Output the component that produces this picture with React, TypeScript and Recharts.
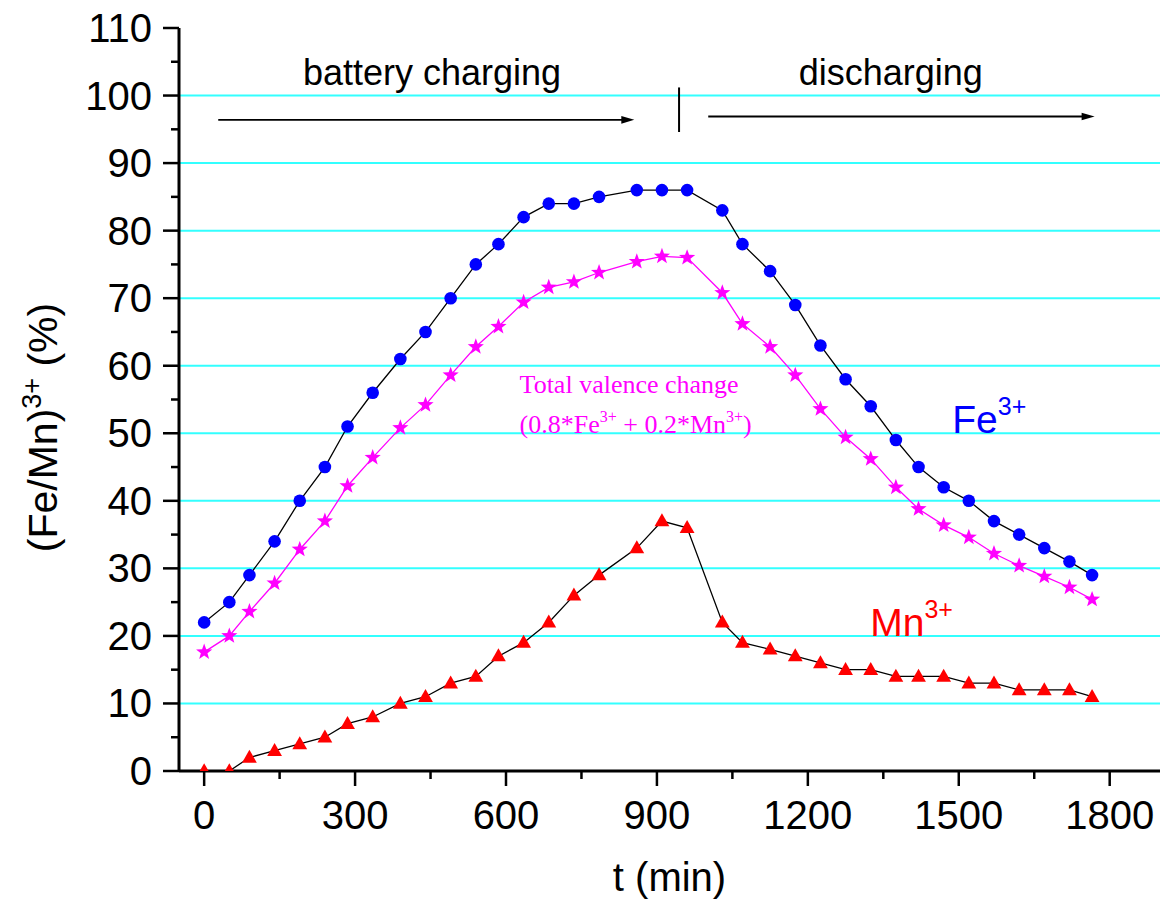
import React from "react";
import {
  ComposedChart,
  Line,
  XAxis,
  YAxis,
  CartesianGrid,
  ReferenceLine,
  ReferenceDot,
} from "recharts";

// sampling times (min)
const times = [
  0, 50, 90, 140, 190, 240, 285, 335, 390, 440, 490, 540, 585, 635, 685, 735,
  785, 860, 910, 960, 1030, 1070, 1125, 1175, 1225, 1275, 1325, 1375, 1420,
  1470, 1520, 1570, 1620, 1670, 1720, 1765,
];
const fe3 = [
  22, 25, 29, 34, 40, 45, 51, 56, 61, 65, 70, 75, 78, 82, 84, 84, 85, 86, 86,
  86, 83, 78, 74, 69, 63, 58, 54, 49, 45, 42, 40, 37, 35, 33, 31, 29,
];
const mn3 = [
  0, 0, 2, 3, 4, 5, 7, 8, 10, 11, 13, 14, 17, 19, 22, 26, 29, 33, 37, 36, 22,
  19, 18, 17, 16, 15, 15, 14, 14, 14, 13, 13, 12, 12, 12, 11,
];
const totalValence = [
  17.6, 20, 23.6, 27.8, 32.8, 37, 42.2, 46.4, 50.8, 54.2, 58.6, 62.8, 65.8,
  69.4, 71.6, 72.4, 73.8, 75.4, 76.2, 76, 70.8, 66.2, 62.8, 58.6, 53.6, 49.4,
  46.2, 42, 38.8, 36.4, 34.6, 32.2, 30.4, 28.8, 27.2, 25.4,
];

const xTicks = [0, 150, 300, 450, 600, 750, 900, 1050, 1200, 1350, 1500, 1650, 1800];
const yTicks = [0, 5, 10, 15, 20, 25, 30, 35, 40, 45, 50, 55, 60, 65, 70, 75, 80, 85, 90, 95, 100, 105, 110];
const gridValues = [10, 20, 30, 40, 50, 60, 70, 80, 90, 100];

const data = times.map((t, i) => ({
  t,
  fe: fe3[i],
  mn: mn3[i],
  total: totalValence[i],
}));

const SANS = "'Liberation Sans', Arial, sans-serif";
const SERIF = "'Liberation Serif', 'Times New Roman', serif";

const X_TICK_SIZE = 15;
const X_TICK_MARGIN = 14;
const Y_TICK_SIZE = 16;
const Y_TICK_MARGIN = 11;

function XTick(props: any) {
  const { x, y, payload } = props;
  const axisY = y - X_TICK_SIZE - X_TICK_MARGIN;
  const major = payload.value % 300 === 0;
  return (
    <g>
      <line x1={x} x2={x} y1={axisY} y2={axisY + (major ? X_TICK_SIZE : 8)} stroke="#000" strokeWidth={2.5} />
      {major && (
        <text x={x} y={y + 29} textAnchor="middle" fontFamily={SANS} fontSize={40} fill="#000">
          {payload.value}
        </text>
      )}
    </g>
  );
}

function YTick(props: any) {
  const { x, y, payload } = props;
  const axisX = x + Y_TICK_SIZE + Y_TICK_MARGIN;
  const major = payload.value % 10 === 0;
  return (
    <g>
      <line x1={axisX - (major ? Y_TICK_SIZE : 8)} x2={axisX} y1={y} y2={y} stroke="#000" strokeWidth={2.5} />
      {major && (
        <text x={x} y={y + 14} textAnchor="end" fontFamily={SANS} fontSize={40} fill="#000">
          {payload.value}
        </text>
      )}
    </g>
  );
}

const FeDot = (p: any) => <circle key={p.key} cx={p.cx} cy={p.cy} r={6.3} fill="#0000ff" />;

const MnDot = (p: any) => {
  const { cx, cy } = p;
  const pts = `${cx},${cy - 7.8} ${cx + 7.4},${cy + 5.2} ${cx - 7.4},${cy + 5.2}`;
  return <polygon key={p.key} points={pts} fill="#ff0000" />;
};

const StarDot = (p: any) => {
  const { cx, cy } = p;
  const pts: string[] = [];
  for (let k = 0; k < 10; k++) {
    const r = k % 2 === 0 ? 8.5 : 3.5;
    const a = -Math.PI / 2 + (k * Math.PI) / 5;
    pts.push(`${cx + r * Math.cos(a)},${cy + r * Math.sin(a)}`);
  }
  return <polygon key={p.key} points={pts.join(" ")} fill="#ff00ff" />;
};

function Arrow(props: any) {
  const { x1, y1, x2, y2 } = props;
  return (
    <g>
      <line x1={x1} y1={y1} x2={x2 - 10} y2={y2} stroke="#000" strokeWidth={1.8} />
      <polygon points={`${x2},${y2} ${x2 - 13},${y2 - 3.8} ${x2 - 13},${y2 + 3.8}`} fill="#000" />
    </g>
  );
}

const textAt = (content: React.ReactNode, anchor: string, fill: string, size: number, family = SANS) =>
  (p: any) => (
    <text x={p.cx} y={p.cy} textAnchor={anchor} fill={fill} fontSize={size} fontFamily={family}>
      {content}
    </text>
  );

const renderXTitle = (p: any) => {
  const vb = p.viewBox;
  return (
    <text x={vb.x + vb.width / 2} y={vb.y + vb.height - 13} textAnchor="middle" fontFamily={SANS} fontSize={40} fill="#000">
      t (min)
    </text>
  );
};

const renderYTitle = (p: any) => {
  const vb = p.viewBox;
  const cx = vb.x + 57;
  const cy = vb.y + vb.height / 2 + 28;
  return (
    <text x={cx} y={cy} transform={`rotate(-90, ${cx}, ${cy})`} textAnchor="middle" fontFamily={SANS} fontSize={41} fill="#000">
      (Fe/Mn)
      <tspan dy={-16} fontSize={27}>3+</tspan>
      <tspan dy={16}> (%)</tspan>
    </text>
  );
};

export default function App() {
  return (
    <div style={{ position: "absolute", left: 0, top: 0, background: "#fff" }}>
      <ComposedChart
        width={1162}
        height={904}
        data={data}
        margin={{ top: 28, right: 2, bottom: 0, left: 0 }}
      >
        <CartesianGrid vertical={false} horizontalValues={gridValues} stroke="#33ffff" strokeWidth={2} />
        <XAxis
          dataKey="t"
          type="number"
          domain={[-50, 1900]}
          allowDataOverflow
          ticks={xTicks}
          tick={<XTick />}
          tickLine={false}
          tickSize={X_TICK_SIZE}
          tickMargin={X_TICK_MARGIN}
          height={133}
          axisLine={{ stroke: "#000", strokeWidth: 3 }}
          interval={0}
          label={renderXTitle}
        />
        <XAxis
          xAxisId="top"
          orientation="top"
          type="number"
          domain={[-50, 1900]}
          allowDataOverflow
          tick={false}
          tickLine={false}
          height={0}
          axisLine={{ stroke: "#000", strokeWidth: 3 }}
        />
        <YAxis
          type="number"
          domain={[0, 110]}
          allowDataOverflow
          ticks={yTicks}
          tick={<YTick />}
          tickLine={false}
          tickSize={Y_TICK_SIZE}
          tickMargin={Y_TICK_MARGIN}
          width={179}
          axisLine={{ stroke: "#000", strokeWidth: 3 }}
          interval={0}
          label={renderYTitle}
        />
        <YAxis
          yAxisId="right"
          orientation="right"
          type="number"
          domain={[0, 110]}
          allowDataOverflow
          tick={false}
          tickLine={false}
          width={0}
          axisLine={{ stroke: "#000", strokeWidth: 3 }}
        />

        <ReferenceLine
          segment={[{ x: 28, y: 96.4 }, { x: 855, y: 96.4 }]}
          shape={Arrow}
        />
        <ReferenceLine
          segment={[{ x: 1002, y: 96.9 }, { x: 1770, y: 96.9 }]}
          shape={Arrow}
        />
        <ReferenceLine
          segment={[{ x: 944, y: 101.2 }, { x: 944, y: 94.6 }]}
          stroke="#000"
          strokeWidth={2}
        />
        <ReferenceDot x={453} y={101.5} shape={textAt("battery charging", "middle", "#000", 36)} />
        <ReferenceDot x={1365} y={101.5} shape={textAt("discharging", "middle", "#000", 36)} />
        <ReferenceDot
          x={1487}
          y={50}
          shape={textAt(
            <>
              Fe<tspan dy={-18} fontSize={25}>3+</tspan>
            </>,
            "start",
            "#0000ff",
            39
          )}
        />
        <ReferenceDot
          x={1324}
          y={20}
          shape={textAt(
            <>
              Mn<tspan dy={-18} fontSize={25}>3+</tspan>
            </>,
            "start",
            "#ff0000",
            39
          )}
        />
        <ReferenceDot x={627} y={55.9} shape={textAt("Total valence change", "start", "#ff00ff", 26, SERIF)} />
        <ReferenceDot
          x={627}
          y={50.1}
          shape={textAt(
            <>
              (0.8*Fe<tspan dy={-11} fontSize={16}>3+</tspan>
              <tspan dy={11}> + 0.2*Mn</tspan>
              <tspan dy={-11} fontSize={16}>3+</tspan>
              <tspan dy={11}>)</tspan>
            </>,
            "start",
            "#ff00ff",
            26,
            SERIF
          )}
        />

        <Line
          dataKey="mn"
          type="linear"
          stroke="#000"
          strokeWidth={1.3}
          dot={MnDot}
          activeDot={false}
          isAnimationActive={false}
        />
        <Line
          dataKey="total"
          type="linear"
          stroke="#ff00ff"
          strokeWidth={1.3}
          dot={StarDot}
          activeDot={false}
          isAnimationActive={false}
        />
        <Line
          dataKey="fe"
          type="linear"
          stroke="#000"
          strokeWidth={1.3}
          dot={FeDot}
          activeDot={false}
          isAnimationActive={false}
        />
      </ComposedChart>
    </div>
  );
}
